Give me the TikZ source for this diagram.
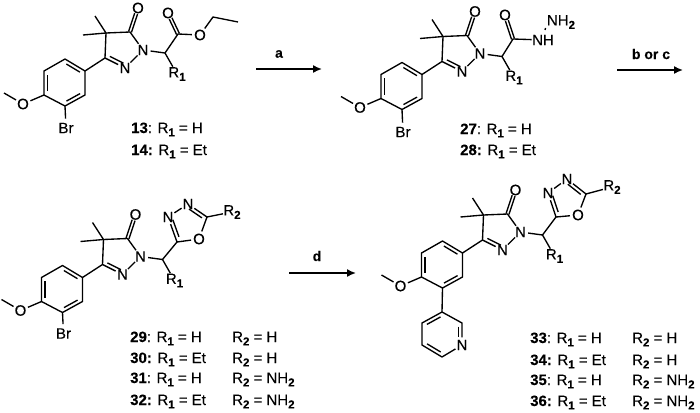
\documentclass[tikz,border=0pt]{standalone}
\usepackage{fontspec}
\setmainfont[FakeBold=0.2]{Liberation Sans}
\usetikzlibrary{calc,arrows.meta}
\newcommand{\sbs}[1]{\raisebox{-3.4pt}{\fontsize{11.5}{11.5}\selectfont\textbf{#1}}}
\newcommand{\Ra}{R\sbs{1}}
\newcommand{\Rb}{R\sbs{2}}
\newcommand{\inbond}[2]{\draw[bond] ($(#1)!.16!(#2)!3.6pt!-90:(#2)$) -- ($(#2)!.16!(#1)!3.6pt!90:(#1)$);}
\newcommand{\inbondn}[2]{\draw[bond] ($(#1)!.16!(#2)!3.6pt!-90:(#2)$) -- ($(#1)!.62!(#2)!3.6pt!-90:(#2)$);}
\newcommand{\coxo}[2]{%
 \draw[bond,shorten >=6pt] ($(#1)!1.5pt!90:(#2)$) -- ($(#2)!1.5pt!-90:(#1)$);
 \draw[bond,shorten >=6pt] ($(#1)!1.5pt!-90:(#2)$) -- ($(#2)!1.5pt!90:(#1)$);}
\newcommand{\core}[1]{%
 \coordinate (#1me) at (4,93);
 \node[atom] (#1om) at (23,104) {O};
 \coordinate (#1a1) at (44,95);
 \coordinate (#1a2) at (44,71);
 \coordinate (#1a3) at (65,59);
 \coordinate (#1a4) at (85,71);
 \coordinate (#1a5) at (85,95);
 \coordinate (#1a6) at (65,106);
 \coordinate (#1c3) at (105,58);
 \coordinate (#1c4) at (106,33);
 \coordinate (#1m1) at (95,16);
 \coordinate (#1m2) at (83,35);
 \coordinate (#1c5) at (130,32);
 \node[atom] (#1ok) at (138,8) {O};
 \node[atom] (#1n1) at (143,50) {N};
 \node[atom] (#1n2) at (125,68) {N};
 \coordinate (#1ch) at (165,53);
 \node[rgroup] (#1r) at (177,74) {\Ra};
 \draw[bond] (#1me) -- (#1om) -- (#1a1);
 \draw[bond,line join=round] (#1a1) -- (#1a2) -- (#1a3) -- (#1a4) -- (#1a5) -- (#1a6) -- cycle;
 \inbond{#1a1}{#1a2}
 \inbond{#1a3}{#1a4}
 \inbond{#1a5}{#1a6}
 \draw[bond] (#1a4) -- (#1c3) -- (#1c4) -- (#1c5) -- (#1n1) -- (#1n2) -- (#1c3);
 \inbond{#1n2}{#1c3}
 \draw[bond] (#1c4) -- (#1m1);
 \draw[bond] (#1c4) -- (#1m2);
 \coxo{#1c5}{#1ok}
 \draw[bond] (#1n1) -- (#1ch) -- (#1r);
}
\newcommand{\oxad}[1]{%
 \draw[bond] (#1ch) -- (#1d2) -- (#1d3) -- (#1d4) -- (#1d5) -- (#1d1) -- (#1d2);
 \inbond{#1d2}{#1d3}
 \inbond{#1d4}{#1d5}
 \draw[bond] (#1d5) -- (#1rb);
}
\tikzset{
 bond/.style={line width=1.35pt,black},
 atom/.style={circle,inner sep=0pt,font=\fontsize{15}{15}\selectfont},
 rgroup/.style={rectangle,inner sep=0.3pt,font=\fontsize{15}{15}\selectfont},
 lbl/.style={anchor=base west,inner sep=0pt,font=\fontsize{15}{15}\selectfont},
 rxn/.style={line width=1.6pt,-{Latex[length=9pt,width=8pt]}},
 rxnlabel/.style={inner sep=0pt,font=\fontsize{14}{14}\selectfont\bfseries}
}
\begin{document}
\begin{tikzpicture}[x=1pt,y=-1pt]
\useasboundingbox (0,0) rectangle (700,412);
% compound 13/14
\begin{scope}
 \core{p}
 \node[atom] (pbr) at (66,128) {Br};
 \draw[bond] (pa6) -- (pbr);
\end{scope}
\coordinate (pco) at (178,34);
\node[atom] (pox) at (168,13) {O};
\node[atom] (pes) at (200,35) {O};
\coordinate (pet) at (213,17);
\coordinate (pme) at (238,22);
\draw[bond] (pch) -- (pco) -- (pes) -- (pet) -- (pme);
\coxo{pco}{pox}
% compound 27/28
\begin{scope}[shift={(337,3.5)}]
 \core{q}
 \node[atom] (qbr) at (66,128.5) {Br};
 \draw[bond] (qa6) -- (qbr);
\end{scope}
\coordinate (qco) at (513,39);
\node[atom] (qox) at (505,15) {O};
\node[rgroup] (qnh) at (543,40) {NH};
\node[rgroup] (qnb) at (561,22) {NH\sbs{2}};
\draw[bond] (qch) -- (qco) -- (qnh);
\coxo{qco}{qox}
\coordinate (qtick) at (545,30);
\draw[bond] (qtick) -- ++(0.5,-2);
% compound 29-32
\begin{scope}[shift={(-2.5,206.5)}]
 \core{s}
 \node[atom] (sbr) at (66,127) {Br};
 \draw[bond] (sa6) -- (sbr);
\end{scope}
\coordinate (sd2) at (177,242);
\node[atom] (sd1) at (199,239) {O};
\coordinate (sd5) at (207,217);
\node[atom] (sd4) at (188,204) {N};
\node[atom] (sd3) at (168,217) {N};
\node[rgroup] (srb) at (232,212) {\Rb};
\oxad{s}
% compound 33-36
\begin{scope}[shift={(377.5,182)}]
 \core{t}
\end{scope}
\coordinate (td2) at (556,217);
\node[atom] (td1) at (578,215) {O};
\coordinate (td5) at (586,194);
\node[atom] (td4) at (567,179) {N};
\node[atom] (td3) at (548,193) {N};
\node[rgroup] (trb) at (612,187) {\Rb};
\oxad{t}
\coordinate (py1) at (442,312);
\coordinate (py2) at (462,323);
\node[atom] (py3) at (462,345) {N};
\coordinate (py4) at (442,357);
\coordinate (py5) at (422,345);
\coordinate (py6) at (422,323);
\draw[bond] (ta6) -- (py1);
\draw[bond,line join=round] (py3) -- (py2) -- (py1) -- (py6) -- (py5) -- (py4) -- (py3);
\inbondn{py2}{py3}
\inbond{py4}{py5}
\inbond{py6}{py1}
% arrows
\coordinate (aa) at (256,69); \coordinate (ab) at (322,69);
\coordinate (ba) at (617,70); \coordinate (bb) at (683,70);
\coordinate (da) at (289,273); \coordinate (db) at (356,273);
\draw[rxn] (aa) -- (ab);
\draw[rxn] (ba) -- (bb);
\draw[rxn] (da) -- (db);
\node[rxnlabel] (la) at (279,54) {a};
\node[rxnlabel] (lb) at (651,54) {b or c};
\node[rxnlabel] (ld) at (317,256) {d};
% labels
\node[lbl] (t13) at (131,133) {\textbf{13}: \Ra{} = H};
\node[lbl] (t14) at (131,155) {\textbf{14:} \Ra{} = Et};
\node[lbl] (t27) at (460,134) {\textbf{27}: \Ra{} = H};
\node[lbl] (t28) at (460,155) {\textbf{28:} \Ra{} = Et};
\node[lbl] (t29) at (130,342) {\textbf{29}: \Ra{} = H};
\node[lbl] (t30) at (130,363) {\textbf{30:} \Ra{} = Et};
\node[lbl] (t31) at (130,383) {\textbf{31}: \Ra{} = H};
\node[lbl] (t32) at (130,405) {\textbf{32:} \Ra{} = Et};
\node[lbl] (u29) at (232,342) {\Rb{} = H};
\node[lbl] (u30) at (232,363) {\Rb{} = H};
\node[lbl] (u31) at (232,383) {\Rb{} = NH\sbs{2}};
\node[lbl] (u32) at (232,405) {\Rb{} = NH\sbs{2}};
\node[lbl] (t33) at (530,343) {\textbf{33}: \Ra{} = H};
\node[lbl] (t34) at (530,365) {\textbf{34:} \Ra{} = Et};
\node[lbl] (t35) at (530,385) {\textbf{35}: \Ra{} = H};
\node[lbl] (t36) at (530,406) {\textbf{36:} \Ra{} = Et};
\node[lbl] (u33) at (632,343) {\Rb{} = H};
\node[lbl] (u34) at (632,365) {\Rb{} = H};
\node[lbl] (u35) at (632,385) {\Rb{} = NH\sbs{2}};
\node[lbl] (u36) at (632,406) {\Rb{} = NH\sbs{2}};
\end{tikzpicture}
\end{document}
